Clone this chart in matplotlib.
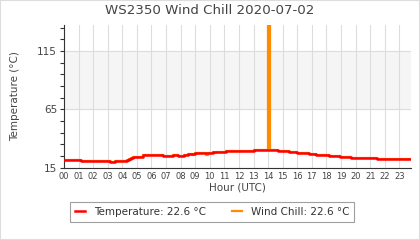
import matplotlib
matplotlib.use('Agg')
import matplotlib.pyplot as plt
from matplotlib.patches import Rectangle
from matplotlib.ticker import MultipleLocator, FixedLocator

# Step series, (hour, value) breakpoints
temp_hours = [0.0, 1.2, 3.15, 3.5, 4.3, 4.45, 4.6, 4.75, 5.4, 6.8, 7.5, 7.8,
              8.2, 8.5, 9.0, 10.2, 11.1, 13.0, 14.7, 15.4, 16.0, 16.8, 17.3,
              18.2, 18.9, 19.7, 21.5, 23.8]
temp_vals = [21.9, 21.0, 20.2, 21.0, 21.6, 22.6, 23.6, 24.4, 26.0, 25.3, 26.1,
             25.3, 26.1, 27.0, 27.9, 28.7, 29.4, 30.2, 29.3, 28.5, 27.6, 26.7,
             26.0, 25.3, 24.2, 23.3, 22.6, 22.6]

chill_hours = [0.0, 1.2, 3.15, 3.5, 4.3, 4.45, 4.6, 4.75, 5.4, 6.8, 7.5, 7.8,
               8.2, 8.5, 8.75, 8.85, 9.0, 9.35, 9.45, 9.75, 9.85, 10.2, 10.3,
               10.4, 11.1, 13.0, 13.97, 14.1, 14.7, 15.4, 16.0, 16.8, 17.3,
               18.2, 18.9, 19.7, 21.5, 23.8]
chill_vals = [21.9, 21.0, 20.2, 21.0, 21.6, 22.6, 23.6, 24.4, 26.0, 25.3, 26.1,
              25.3, 26.1, 27.0, 26.0, 27.0, 27.9, 27.2, 27.9, 26.0, 27.9, 28.7,
              27.9, 28.7, 29.4, 30.2, 160.0, 30.2, 29.3, 28.5, 27.6, 26.7,
              26.0, 25.3, 24.2, 23.3, 22.6, 22.6]

hour_labels = [f'{h:02d}' for h in range(24)]
last_temp = 22.6
last_chill = 22.6

fig = plt.figure(figsize=(4.2, 2.4), dpi=100)
fig.patches.append(Rectangle((0, 0), 1, 1, transform=fig.transFigure,
                             fill=False, ec='#dddddd', lw=1.5))
ax = fig.add_axes([64/420, 1-167.7/240, (411-64)/420, (167.7-25)/240])

ax.axhspan(65, 115, color='#f5f5f5', zorder=0)
ax.plot(chill_hours, chill_vals, drawstyle='steps-post', c='#ff8c00',
        lw=1.6, zorder=2, label=f'Wind Chill: {last_chill} °C')
ax.plot(temp_hours, temp_vals, drawstyle='steps-post', c='red',
        lw=1.8, zorder=3, label=f'Temperature: {last_temp} °C')

ax.set_xlim(0, 23.8)
ax.set_ylim(15, 137.3)
ax.xaxis.set_major_locator(FixedLocator(range(24)))
ax.set_xticklabels(hour_labels)
ax.yaxis.set_major_locator(FixedLocator([15, 65, 115]))
ax.yaxis.set_minor_locator(MultipleLocator(10, offset=5))
ax.grid(True, which='major', color='#dddddd', lw=0.8, zorder=1)
ax.set_axisbelow(True)
for s in ['top', 'right']:
    ax.spines[s].set_visible(False)
for s in ['left', 'bottom']:
    ax.spines[s].set_color('#333333')
    ax.spines[s].set_linewidth(0.8)
ax.tick_params(axis='x', length=0, pad=3, labelsize=6, labelcolor='#444444')
ax.tick_params(axis='y', which='both', length=3, width=0.8, color='#333333',
               labelsize=7.5, labelcolor='#444444', pad=2)

ax.set_xlabel('Hour (UTC)', fontsize=7.5, color='#444444', labelpad=1)
ax.set_ylabel('Temperature (°C)', fontsize=7.5, color='#444444', labelpad=12)
fig.suptitle('WS2350 Wind Chill 2020-07-02', fontsize=9.6, color='#444444',
             y=0.985)

h, l = ax.get_legend_handles_labels()
leg = fig.legend(h[::-1], l[::-1], loc='center', ncol=2,
                 bbox_to_anchor=(212/420, 1-212/240), fontsize=7.5,
                 frameon=True, fancybox=False, edgecolor='#888888',
                 handlelength=1.0, columnspacing=2.5, borderpad=0.5)
leg.get_frame().set_linewidth(0.8)
for t in leg.get_texts():
    t.set_color('#333333')

fig.savefig('out.png', dpi=100)
